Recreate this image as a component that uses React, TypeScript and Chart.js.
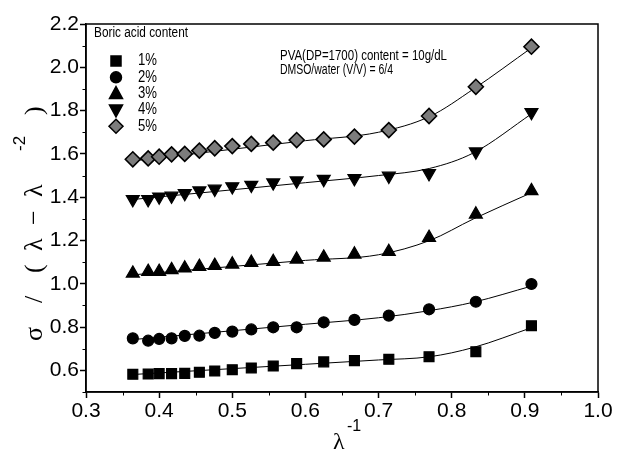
import React, { useEffect, useRef } from 'react';
import { Chart, registerables } from 'chart.js';

Chart.register(...registerables);

// λ^-1 values of the measurements
const xValues = [0.364, 0.385, 0.400, 0.417, 0.435, 0.455, 0.476, 0.500, 0.526, 0.556, 0.588, 0.625, 0.667, 0.714, 0.769, 0.833, 0.909];

// σ/(λ−λ^-2) for each boric acid content
const boric1 = [0.582, 0.583, 0.585, 0.585, 0.586, 0.591, 0.597, 0.603, 0.611, 0.620, 0.631, 0.639, 0.645, 0.651, 0.663, 0.686, 0.806];
const boric2 = [0.748, 0.737, 0.745, 0.748, 0.759, 0.760, 0.773, 0.779, 0.789, 0.799, 0.799, 0.822, 0.833, 0.853, 0.882, 0.917, 0.999];
const boric3 = [1.048, 1.056, 1.056, 1.064, 1.072, 1.079, 1.084, 1.090, 1.098, 1.102, 1.113, 1.122, 1.136, 1.148, 1.213, 1.321, 1.429];
const boric4 = [1.390, 1.390, 1.402, 1.406, 1.418, 1.430, 1.438, 1.449, 1.456, 1.467, 1.476, 1.483, 1.487, 1.498, 1.510, 1.610, 1.792];
const boric5 = [1.575, 1.579, 1.587, 1.598, 1.600, 1.615, 1.626, 1.636, 1.646, 1.652, 1.664, 1.667, 1.680, 1.710, 1.775, 1.910, 2.095];

// fitted curves
const fitX = [0.36, 0.60, 0.70, 0.77, 0.83, 0.91];
const fit1 = [0.580, 0.628, 0.648, 0.663, 0.706, 0.798];
const fit2 = [0.741, 0.813, 0.843, 0.876, 0.915, 0.990];
const fit3 = [1.040, 1.108, 1.134, 1.200, 1.300, 1.422];
const fit4 = [1.388, 1.467, 1.500, 1.533, 1.605, 1.787];
const fit5 = [1.566, 1.661, 1.700, 1.773, 1.900, 2.092];

const seriesLabels = ['1%', '2%', '3%', '4%', '5%'];
const markerStyles = ['rect', 'circle', 'triangle', 'triangleDown', 'rectRot'];
const markerFills = ['#000000', '#000000', '#000000', '#000000', '#7c7c7c'];

const xTickValues = [0.3, 0.4, 0.5, 0.6, 0.7, 0.8, 0.9, 1.0];
const yTickValues = [0.6, 0.8, 1.0, 1.2, 1.4, 1.6, 1.8, 2.0, 2.2];
const xMinorValues = [0.35, 0.45, 0.55, 0.65, 0.75, 0.85, 0.95];
const yMinorValues = [0.5, 0.7, 0.9, 1.1, 1.3, 1.5, 1.7, 1.9, 2.1];

const legendTitle = 'Boric acid content';
const noteLines = ['PVA(DP=1700) content = 10g/dL', 'DMSO/water (V/V) = 6/4'];

const SANS = "'Liberation Sans Narrow', 'Liberation Sans', Arial, sans-serif";
const SERIF = "'Liberation Serif', 'DejaVu Serif', serif";

function fitText(ctx: CanvasRenderingContext2D, text: string, x: number, y: number, font: string, width: number) {
  ctx.save();
  ctx.font = font;
  const w = ctx.measureText(text).width;
  ctx.translate(x, y);
  ctx.scale(width / w, 1);
  ctx.textAlign = 'left';
  ctx.textBaseline = 'middle';
  ctx.fillStyle = '#000';
  ctx.fillText(text, 0, 0);
  ctx.restore();
}

function drawMarker(ctx: CanvasRenderingContext2D, style: string, x: number, y: number, fill: string) {
  ctx.save();
  ctx.fillStyle = fill;
  ctx.strokeStyle = '#000';
  ctx.lineWidth = 1.5;
  ctx.beginPath();
  if (style === 'rect') {
    ctx.rect(x - 5, y - 5, 10, 10);
  } else if (style === 'circle') {
    ctx.arc(x, y, 5.5, 0, Math.PI * 2);
  } else if (style === 'triangle') {
    ctx.moveTo(x, y - 7);
    ctx.lineTo(x + 6.5, y + 5);
    ctx.lineTo(x - 6.5, y + 5);
    ctx.closePath();
  } else if (style === 'triangleDown') {
    ctx.moveTo(x, y + 7);
    ctx.lineTo(x + 6.5, y - 5);
    ctx.lineTo(x - 6.5, y - 5);
    ctx.closePath();
  } else {
    ctx.moveTo(x, y - 7);
    ctx.lineTo(x + 7, y);
    ctx.lineTo(x, y + 7);
    ctx.lineTo(x - 7, y);
    ctx.closePath();
  }
  ctx.fill();
  ctx.stroke();
  ctx.restore();
}

const decorPlugin = {
  id: 'decor',
  afterDraw(chart: any) {
    const ctx: CanvasRenderingContext2D = chart.ctx;
    const { left, right, top, bottom } = chart.chartArea;
    const xs = chart.scales.x;
    const ys = chart.scales.y;
    ctx.save();
    // frame
    ctx.strokeStyle = '#000';
    ctx.lineWidth = 1.5;
    ctx.strokeRect(left, top, right - left, bottom - top);
    // minor ticks
    ctx.lineWidth = 1;
    ctx.beginPath();
    xMinorValues.forEach((v) => {
      const px = Math.round(xs.getPixelForValue(v)) + 0.5;
      ctx.moveTo(px, bottom);
      ctx.lineTo(px, bottom + 3.5);
    });
    yMinorValues.forEach((v) => {
      const py = Math.round(ys.getPixelForValue(v)) + 0.5;
      ctx.moveTo(left, py);
      ctx.lineTo(left - 3.5, py);
    });
    ctx.stroke();

    // legend inside the plot
    fitText(ctx, legendTitle, left + 8, top + 9, `14px ${SANS}`, 94);
    seriesLabels.forEach((lab, i) => {
      const y = top + 37 + i * 16.3;
      drawMarker(ctx, markerStyles[i], left + 30, y, markerFills[i]);
      fitText(ctx, lab, left + 52, y, `16px ${SANS}`, 19);
    });

    // notes
    fitText(ctx, noteLines[0], left + 194, top + 32, `14px ${SANS}`, 167);
    fitText(ctx, noteLines[1], left + 194, top + 46, `14px ${SANS}`, 113);

    // y-axis title (rotated)
    ctx.save();
    ctx.translate(35, 341);
    ctx.rotate(-Math.PI / 2);
    ctx.fillStyle = '#000';
    ctx.textAlign = 'left';
    ctx.textBaseline = 'middle';
    ctx.font = `26px ${SERIF}`;
    ctx.fillText('σ', 0, 0);
    ctx.fillText('/', 38, 0);
    ctx.fillText('(', 68, 0);
    ctx.fillText('λ', 90, 0);
    ctx.fillText('−', 116, 0);
    ctx.fillText('λ', 144, 0);
    ctx.font = `17px ${SANS}`;
    ctx.fillText('-2', 190, -15);
    ctx.font = `26px ${SERIF}`;
    ctx.fillText(')', 226, 0);
    ctx.restore();

    // x-axis title
    ctx.fillStyle = '#000';
    ctx.textAlign = 'left';
    ctx.textBaseline = 'middle';
    ctx.font = `24px ${SERIF}`;
    ctx.fillText('λ', 333, 443);
    ctx.font = `16px ${SANS}`;
    ctx.fillText('-1', 347, 427);
    ctx.restore();
  },
};

function pts(xv: number[], yv: number[]) {
  return xv.map((x, i) => ({ x, y: yv[i] }));
}

export default function App() {
  const ref = useRef<HTMLCanvasElement | null>(null);
  useEffect(() => {
    if (!ref.current) return;
    const all = [boric1, boric2, boric3, boric4, boric5];
    const fits = [fit1, fit2, fit3, fit4, fit5];
    const markerDatasets = all.map((vals, i) => ({
      label: seriesLabels[i],
      data: pts(xValues, vals),
      showLine: false,
      pointStyle: markerStyles[i] === 'triangleDown' ? 'triangle' : markerStyles[i],
      rotation: markerStyles[i] === 'triangleDown' ? 180 : 0,
      pointRadius: markerStyles[i] === 'rect' ? 7 : markerStyles[i] === 'circle' ? 5.5 : 7.5,
      backgroundColor: markerFills[i],
      borderColor: '#000',
      borderWidth: markerStyles[i] === 'rectRot' ? 1.6 : 1.2,
    }));
    const fitDatasets = fits.map((vals, i) => ({
      label: 'fit ' + seriesLabels[i],
      data: pts(fitX, vals),
      showLine: true,
      pointRadius: 0,
      borderColor: '#000',
      borderWidth: 1,
      cubicInterpolationMode: 'monotone',
      fill: false,
    }));
    const tickFont = { family: SANS, size: 21 };
    const chart = new Chart(ref.current, {
      type: 'scatter',
      data: { datasets: [...markerDatasets, ...fitDatasets] as any },
      options: {
        animation: false,
        responsive: false,
        devicePixelRatio: 1,
        layout: { padding: { top: 24, right: 20, left: 0, bottom: 0 } },
        plugins: { legend: { display: false }, tooltip: { enabled: false } },
        scales: {
          x: {
            type: 'linear',
            min: 0.3,
            max: 1.0,
            afterBuildTicks: (s: any) => { s.ticks = xTickValues.map((v) => ({ value: v })); },
            afterFit: (s: any) => { s.height = 65; },
            ticks: { callback: (v: any) => Number(v).toFixed(1), font: tickFont, color: '#000', padding: 1, maxRotation: 0, autoSkip: false },
            grid: { drawOnChartArea: false, drawTicks: true, tickLength: 6, tickColor: '#000', tickWidth: 1.5 },
            border: { display: true, color: '#000', width: 1.5 },
          },
          y: {
            type: 'linear',
            min: 0.5,
            max: 2.2,
            afterBuildTicks: (s: any) => { s.ticks = yTickValues.map((v) => ({ value: v })); },
            afterFit: (s: any) => { s.width = 86; },
            ticks: { callback: (v: any) => Number(v).toFixed(1), font: tickFont, color: '#000', padding: 1, autoSkip: false },
            grid: { drawOnChartArea: false, drawTicks: true, tickLength: 6, tickColor: '#000', tickWidth: 1.5 },
            border: { display: true, color: '#000', width: 1.5 },
          },
        },
      } as any,
      plugins: [decorPlugin],
    });
    return () => chart.destroy();
  }, []);
  return (
    <div style={{ position: 'absolute', left: 0, top: 0, width: 618, height: 457, background: '#fff' }}>
      <canvas ref={ref} width={618} height={457} style={{ display: 'block' }} />
    </div>
  );
}
